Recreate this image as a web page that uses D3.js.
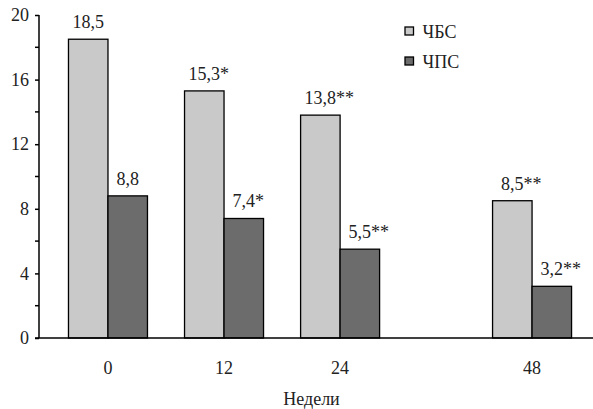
<!DOCTYPE html>
<html><head><meta charset="utf-8">
<script src="https://cdn.jsdelivr.net/npm/d3@7"></script>
<style>
html,body{margin:0;background:#fff;font-family:"Liberation Serif",Tinos,"Times New Roman",serif}
svg{display:block}
svg text{font-family:"Liberation Serif",Tinos,"Times New Roman",serif}
</style>
</head><body><svg id="c" width="593" height="409"></svg>
<script>
const weeks = [0, 12, 24, 48];
const weekLabels = ["0", "12", "24", "48"];
const seriesNames = ["ЧБС", "ЧПС"];
const chbs = [18.5, 15.3, 13.8, 8.5];
const chps = [8.8, 7.4, 5.5, 3.2];
const chbsLabels = ["18,5", "15,3", "13,8", "8,5"];
const chbsMarks = ["", "*", "**", "**"];
const chpsLabels = ["8,8", "7,4", "5,5", "3,2"];
const chpsMarks = ["", "*", "**", "**"];
const yTicks = [0, 4, 8, 12, 16, 20];
const yMinor = [2, 6, 10, 14, 18];
const colors = ["#c9c9c9", "#6b6c6b"];

const FONT = "Liberation Serif, Tinos, Times New Roman, serif";
const svg = d3.select("#c");
const m = {l: 39, t: 15, r: 0, b: 71};
const W = 593 - m.l - m.r, H = 409 - m.t - m.b;
const g = svg.append("g").attr("transform", `translate(${m.l},${m.t})`);

const y = d3.scaleLinear().domain([0, 20]).range([H, 0]);
// broken time axis: 0-24 weeks spaced wider than 24-48
const x = d3.scaleLinear().domain([0, 24, 48]).range([W * 0.1245, W * 0.5435, W * 0.89]);
const bw = 39.5;
const fs = 18;

const series = [
  {name: seriesNames[0], vals: chbs, labs: chbsLabels, marks: chbsMarks, off: -1, color: colors[0]},
  {name: seriesNames[1], vals: chps, labs: chpsLabels, marks: chpsMarks, off: 0, color: colors[1]}
];

function txt(sel) { return sel.attr("font-family", FONT).attr("fill", "#222").attr("font-size", fs); }

series.forEach(s => {
  g.selectAll(null).data(weeks).enter().append("rect")
    .attr("x", (d) => x(d) + s.off * bw)
    .attr("y", (d, i) => y(s.vals[i]))
    .attr("width", bw)
    .attr("height", (d, i) => H - y(s.vals[i]))
    .attr("fill", s.color).attr("stroke", "#000").attr("stroke-width", 1.3);
  weeks.forEach((d, i) => {
    const cx = x(d) + s.off * bw + bw / 2;
    const lab = txt(g.append("text")).attr("x", cx).attr("y", y(s.vals[i]) - 11)
      .attr("text-anchor", "middle");
    lab.append("tspan").text(s.labs[i]);
    // asterisks hang to the right of the centred number
    if (s.marks[i]) lab.append("tspan").text(s.marks[i]);
    if (s.marks[i]) lab.attr("dx", s.marks[i].length * 4.5);
  });
});

// y axis
const ya = d3.axisLeft(y).tickValues(yTicks).tickSize(4).tickPadding(6).tickFormat(d3.format("d"));
const yg = g.append("g").call(ya).attr("font-family", FONT);
yg.select(".domain").attr("stroke", "#000").attr("stroke-width", 1.5).attr("d", `M0,${H}V0`);
yg.selectAll(".tick line").attr("stroke", "#000").attr("stroke-width", 1.5);
txt(yg.selectAll(".tick text"));
g.selectAll(null).data(yMinor).enter().append("line")
  .attr("x1", -4).attr("x2", 0).attr("y1", d => y(d)).attr("y2", d => y(d))
  .attr("stroke", "#000").attr("stroke-width", 1.5);

// x baseline
g.append("line").attr("x1", -4).attr("x2", W).attr("y1", H).attr("y2", H)
  .attr("stroke", "#000").attr("stroke-width", 1.5);
txt(g.selectAll(null).data(weeks).enter().append("text"))
  .attr("x", d => x(d)).attr("y", H + 36).attr("text-anchor", "middle")
  .text((d, i) => weekLabels[i]);
txt(g.append("text")).attr("x", 311.5 - m.l).attr("y", H + 67).attr("text-anchor", "middle")
  .text("Недели");

// legend
const lg = svg.append("g").attr("transform", "translate(405,27)");
series.forEach((s, i) => {
  lg.append("rect").attr("x", 0).attr("y", i * 30).attr("width", 8.5).attr("height", 8)
    .attr("fill", s.color).attr("stroke", "#000").attr("stroke-width", 1.3);
  txt(lg.append("text")).attr("x", 17.5).attr("y", i * 30 + 11).text(s.name);
});
</script></body></html>
